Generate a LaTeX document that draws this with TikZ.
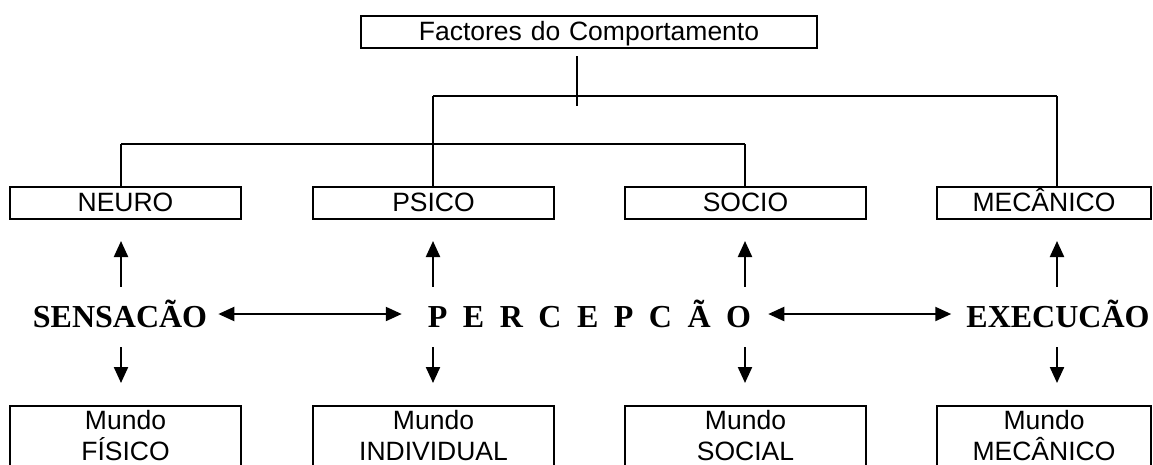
\documentclass[tikz,border=0pt]{standalone}
\usepackage{fontspec}
\setmainfont{Liberation Sans}
\newfontfamily\serifbf{Liberation Serif}
\usetikzlibrary{arrows.meta}
\newcommand\lsp{\hspace{15.5pt}}
\begin{document}
\begin{tikzpicture}[x=1pt,y=-1pt,
  box/.style={draw, line width=2pt, inner sep=0pt, text height=24pt, text depth=8pt,
    align=center, font=\fontsize{26.5}{28}\selectfont},
  world/.style={draw, line width=2pt, inner sep=0pt, anchor=north, text height=23.3pt,
    text depth=80pt, align=center, font=\fontsize{26.5}{31}\selectfont},
  big/.style={inner sep=0pt, anchor=base, text height=26pt, text depth=0pt,
    font=\serifbf\bfseries\fontsize{32}{36}\selectfont},
  conn/.style={line width=1.6pt},
  tip/.tip={Triangle[length=16pt,width=14pt]},
  arr/.style={line width=2.2pt, -tip},
  darr/.style={line width=2.2pt, tip-tip}]
\useasboundingbox (0,0) rectangle (1153,464);
\clip (0,0) rectangle (1153,464);

% top box
\node[box, text width=456pt] (top) at (589,32) {Factores do Comportamento};

% second row
\node[box, text width=231pt] (neuro) at (125.5,203) {NEURO};
\node[box, text width=241pt] (psico) at (433.5,203) {PSICO};
\node[box, text width=241pt] (socio) at (745.5,203) {SOCIO};
\node[box, text width=214pt] (mec) at (1044,203) {MECÂNICO};

% worlds
\node[world, text width=231pt] (w1) at (125.5,405) {Mundo\\FÍSICO};
\node[world, text width=241pt] (w2) at (433.5,405) {Mundo\\INDIVIDUAL};
\node[world, text width=241pt] (w3) at (745.5,405) {Mundo\\SOCIAL};
\node[world, text width=214pt] (w4) at (1044,405) {Mundo\\MECÂNICO};

% middle words
\node[big] (sens) at (120,327) {SENSACÃO};
\node[big] (perc) at (589.5,327) {P\lsp E\lsp R\lsp C\lsp E\lsp P\lsp C\lsp Ã\lsp O};
\node[big] (exec) at (1058,327) {EXECUCÃO};

% tree connectors
\coordinate (ttop) at (577,56);
\coordinate (tbot) at (577,106);
\coordinate (c1) at (121,144);
\coordinate (c2) at (433,96);
\coordinate (c3) at (745,144);
\coordinate (c4) at (1057,96);
\draw[conn] (ttop) -- (tbot);
\draw[conn] (c2) -- (c4);
\draw[conn] (c1) -- (c3);
\draw[conn] (c1) -- (c1 |- neuro.north);
\draw[conn] (c2) -- (c2 |- psico.north);
\draw[conn] (c3) -- (c3 |- socio.north);
\draw[conn] (c4) -- (c4 |- mec.north);

% vertical arrows
\draw[arr, shorten <=14pt, shorten >=21pt] (c1 |- sens.north) -- (c1 |- neuro.south);
\draw[arr, shorten <=14pt, shorten >=21pt] (c2 |- perc.north) -- (c2 |- psico.south);
\draw[arr, shorten <=14pt, shorten >=21pt] (c3 |- perc.north) -- (c3 |- socio.south);
\draw[arr, shorten <=14pt, shorten >=21pt] (c4 |- exec.north) -- (c4 |- mec.south);
\draw[arr, shorten <=20pt, shorten >=22pt] (c1 |- sens.base) -- (c1 |- w1.north);
\draw[arr, shorten <=20pt, shorten >=22pt] (c2 |- perc.base) -- (c2 |- w2.north);
\draw[arr, shorten <=20pt, shorten >=22pt] (c3 |- perc.base) -- (c3 |- w3.north);
\draw[arr, shorten <=20pt, shorten >=22pt] (c4 |- exec.base) -- (c4 |- w4.north);

% horizontal arrows
\draw[darr, shorten <=11pt, shorten >=26pt] (sens.east) -- (perc.west);
\draw[darr, shorten <=17pt, shorten >=15pt] (perc.east) -- (exec.west);
\end{tikzpicture}
\end{document}
